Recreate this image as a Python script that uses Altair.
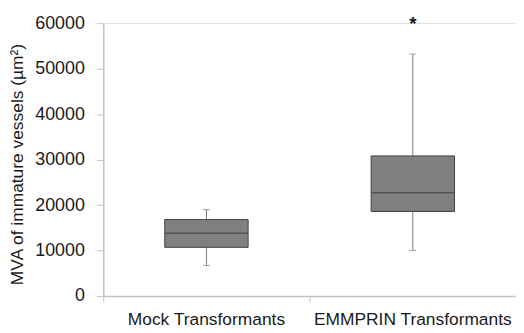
import altair as alt
import pandas as pd

categories = ["Mock Transformants", "EMMPRIN Transformants"]
mins = [6700, 10000]
q1s = [10700, 18600]
medians = [13800, 22700]
q3s = [16800, 30800]
maxs = [19000, 53200]
star_labels = ["", "*"]
star_y = [None, 58500]

df = pd.DataFrame({"cat": categories, "mn": mins, "q1": q1s, "med": medians,
                   "q3": q3s, "mx": maxs})
sdf = pd.DataFrame({"cat": [c for c, s in zip(categories, star_labels) if s],
                    "lab": [s for s in star_labels if s],
                    "y": [v for v in star_y if v is not None]})

FONT = "Liberation Sans"
W = 416

x = alt.X("cat:N", sort=categories, title=None,
          scale=alt.Scale(paddingInner=0, paddingOuter=0),
          axis=alt.Axis(bandPosition=0, labelAngle=0,
                        labelAlign="center", labelBaseline="top",
                        labelPadding=9, labelFontSize=17.5, labelFont=FONT,
                        labelColor="#1a1a1a", tickSize=6, tickColor="#c4c4c4",
                        domainColor="#c4c4c4", domainWidth=1.5, labelLimit=400))
yscale = alt.Scale(domain=[0, 60000])
yaxis = alt.Axis(values=[0, 10000, 20000, 30000, 40000, 50000, 60000],
                 format="d", grid=False, tickSize=7, labelPadding=12,
                 labelFontSize=18, labelFont=FONT, labelColor="#1a1a1a",
                 tickColor="#c4c4c4", domainColor="#c4c4c4", domainWidth=1.5,
                 title="MVA of immature vessels (µm²)", titleFont=FONT,
                 titleFontSize=17.5, titleFontWeight="normal", titleColor="#1a1a1a",
                 titleAngle=-90, titleX=-86, titleY=142, titleAlign="center",
                 titleBaseline="middle")

base = alt.Chart(df)
whisk = base.mark_rule(color="#7a7a7a", strokeWidth=1).encode(
    x=x, y=alt.Y("mn:Q", scale=yscale, axis=yaxis), y2="mx:Q")
box = base.mark_bar(size=84, color="#808080", stroke="#404040", strokeWidth=1).encode(
    x=x, y=alt.Y("q1:Q", scale=yscale), y2="q3:Q")
med = base.mark_tick(size=84, thickness=1.5, color="#404040").encode(
    x=x, y=alt.Y("med:Q", scale=yscale))
capmin = base.mark_tick(size=7, thickness=1, color="#7a7a7a").encode(
    x=x, y=alt.Y("mn:Q", scale=yscale))
capmax = base.mark_tick(size=7, thickness=1, color="#7a7a7a").encode(
    x=x, y=alt.Y("mx:Q", scale=yscale))
star = alt.Chart(sdf).mark_text(font=FONT, fontSize=19, fontWeight="bold",
                                color="#1a1a1a", baseline="alphabetic").encode(
    x=x, y=alt.Y("y:Q", scale=yscale), text="lab:N")

chart = alt.layer(whisk, box, med, capmin, capmax, star).properties(
    width=W, height=275,
    autosize=alt.AutoSizeParams(type="none"),
    padding={"left": 96, "top": 14, "right": 0, "bottom": 32},
).configure_view(stroke=None).configure(background="white")

chart.save("out.html", embed_options={"renderer": "svg", "actions": False})
